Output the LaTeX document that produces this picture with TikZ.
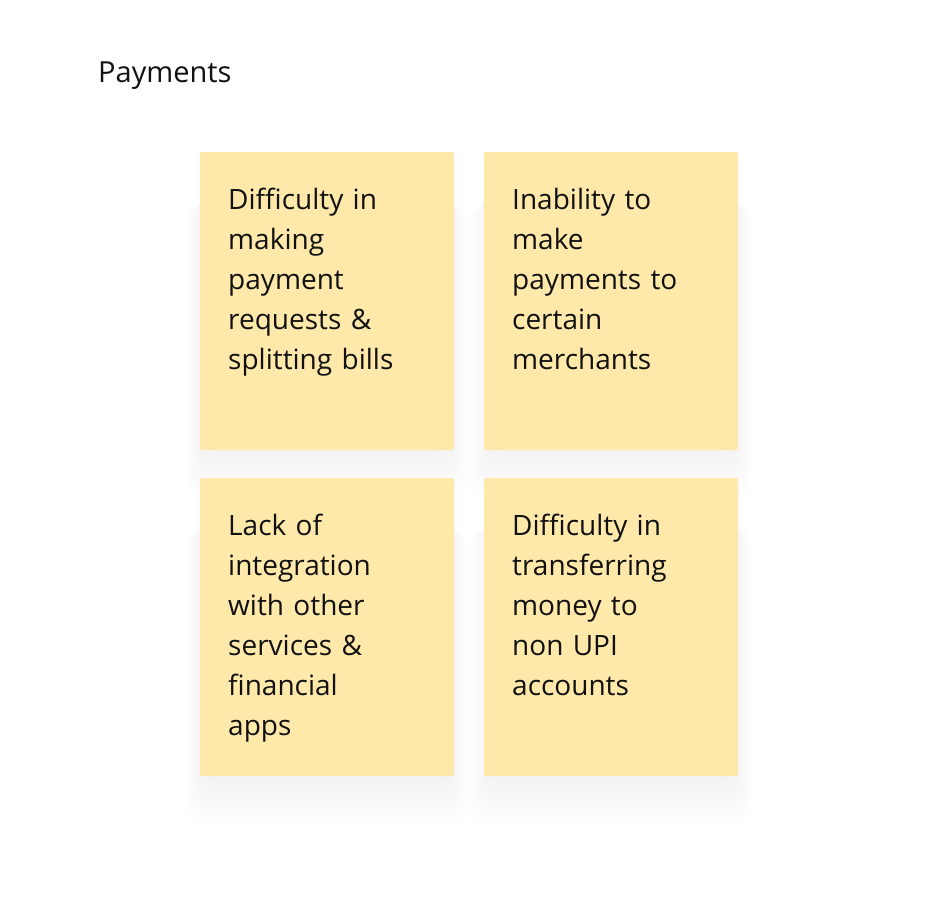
\documentclass[tikz,border=0pt]{standalone}
\usepackage{fontspec}
\setmainfont{Open Sans}
\usetikzlibrary{positioning}
\definecolor{notefill}{RGB}{254,232,170}
\definecolor{notetext}{RGB}{17,17,17}
\tikzset{
 notebox/.style={fill=notefill,draw=none,rounded corners=2pt},
 notetxt/.style={anchor=north west,align=left,inner sep=0pt,text width=220pt,
   text=notetext,font=\fontsize{28}{40}\selectfont}
}

\begin{document}
\begin{tikzpicture}[x=1pt,y=-1pt]
\useasboundingbox[fill=white] (0,0) rectangle (928,916);
\node[anchor=base west,inner sep=0pt,text=notetext,font=\fontsize{29}{30}\selectfont] (title) at (98,82) {Payments};
% notes: left/top corner, name
\foreach \x/\y/\n in {200/152/a,484/152/b,200/478/c,484/478/d}{
 \foreach \s in {1,...,12}
  \fill[black,opacity=0.0035,rounded corners=18pt] (\x+4-\s*1.5,\y+40+\s) rectangle (\x+250+\s*1.5,\y+300+\s*4);
 \fill[notebox] (\x,\y) rectangle (\x+254,\y+298);
 \coordinate (\n) at (\x+28,\y+36);
}
\node[notetxt] (atext) at (a) {Difficulty in\\making\\payment\\requests \&\\splitting bills};
\node[notetxt] (btext) at (b) {Inability to\\make\\payments to\\certain\\merchants};
\node[notetxt] (ctext) at (c) {Lack of\\integration\\with other\\services \&\\financial\\apps};
\node[notetxt] (dtext) at (d) {Difficulty in\\transferring\\money to\\non UPI\\accounts};
\end{tikzpicture}
\end{document}
